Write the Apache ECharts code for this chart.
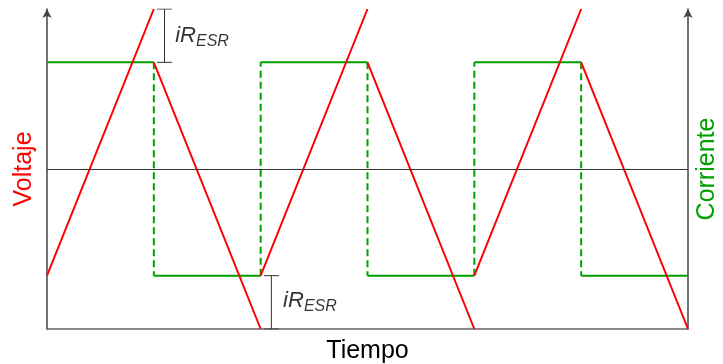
<!DOCTYPE html>
<html>
<head>
<meta charset="utf-8">
<script src="https://cdn.jsdelivr.net/npm/echarts@6/dist/echarts.min.js"></script>
<style>
  html, body { margin: 0; padding: 0; background: #fff; }
  #chart { width: 723px; height: 364px; }
</style>
</head>
<body>
<div id="chart"></div>
<script>
// datos (medio periodo = 1 unidad de tiempo)
const halfPeriods = [0, 1, 2, 3, 4, 5];
const currentLevel = [1, -1, 1, -1, 1, -1];
const voltageStart = [-1.0, 1.0, -1.0, 1.0, -1.0, 1.0];
const voltageEnd = [1.5, -1.5, 1.5, -1.5, 1.5, -1.5];
const yRange = [-1.5, 1.5];
const tRange = [0, 6];
// corchetes iR_ESR: [x, y desde, y hasta]
const esrBrackets = [[1.1, 1.5, 1.0], [2.1, -1.0, -1.5]];
const esrLabels = [[1.2, 1.22], [2.21, -1.26]];

const GAP = ['-', '-'];

let voltage = [];
halfPeriods.forEach((k, i) => {
    voltage.push([k, voltageStart[i]], [k + 1, voltageEnd[i]], GAP);
});

let currentFlat = [];
let currentEdges = [];
halfPeriods.forEach((k, i) => {
    currentFlat.push([k, currentLevel[i]], [k + 1, currentLevel[i]], GAP);
    if (i > 0) {
        currentEdges.push([k, currentLevel[i - 1]], [k, currentLevel[i]], GAP);
    }
});

const capW = 0.07;
let brackets = [];
esrBrackets.forEach(b => {
    brackets.push([b[0] - capW, b[1]], [b[0] + capW, b[1]], GAP);
    brackets.push([b[0], b[1]], [b[0], b[2]], GAP);
    brackets.push([b[0] - capW, b[2]], [b[0] + capW, b[2]], GAP);
});

const FONT = 'Liberation Sans';
const axisGray = '#666';

let chart = echarts.init(document.getElementById('chart'));
chart.setOption({
    animation: false,
    grid: { left: 47, right: 35, top: 9, bottom: 35, containLabel: false, outerBoundsMode: 'none' },
    xAxis: {
        type: 'value', min: tRange[0], max: tRange[1],
        name: 'Tiempo', nameLocation: 'middle', nameGap: 10,
        nameTextStyle: { fontFamily: FONT, fontSize: 25, color: '#000', verticalAlign: 'top' },
        axisLine: { show: true, onZero: false, lineStyle: { color: axisGray, width: 1.5 } },
        axisTick: { show: false }, axisLabel: { show: false }, splitLine: { show: false }
    },
    yAxis: [
        {
            type: 'value', min: yRange[0], max: yRange[1], position: 'left',
            name: 'Voltaje', nameLocation: 'middle', nameGap: 10, nameRotate: 90,
            nameTextStyle: { fontFamily: FONT, fontSize: 25, color: '#ff0000', verticalAlign: 'bottom' },
            axisLine: { show: true, onZero: false, symbol: ['none', 'arrow'], symbolSize: [7, 9],
                lineStyle: { color: '#444', width: 1.5 } },
            axisTick: { show: false }, axisLabel: { show: false }, splitLine: { show: false }
        },
        {
            type: 'value', min: yRange[0], max: yRange[1], position: 'right',
            name: 'Corriente', nameLocation: 'middle', nameGap: 7, nameRotate: 90,
            nameTextStyle: { fontFamily: FONT, fontSize: 25, color: '#00a000', verticalAlign: 'top' },
            axisLine: { show: true, onZero: false, symbol: ['none', 'arrow'], symbolSize: [7, 9],
                lineStyle: { color: '#444', width: 1.5 } },
            axisTick: { show: false }, axisLabel: { show: false }, splitLine: { show: false }
        }
    ],
    series: [
        {
            type: 'line', yAxisIndex: 0, data: brackets, showSymbol: false, silent: true,
            lineStyle: { color: '#333', width: 1 },
            markLine: {
                symbol: 'none', silent: true, label: { show: false },
                lineStyle: { color: '#333', width: 1, type: 'solid' },
                data: [{ yAxis: 0 }]
            }
        },
        {
            type: 'line', yAxisIndex: 1, data: currentFlat, showSymbol: false,
            lineStyle: { color: '#00a000', width: 2 }
        },
        {
            type: 'line', yAxisIndex: 1, data: currentEdges, showSymbol: false,
            lineStyle: { color: '#00a000', width: 2, type: [7, 4] }
        },
        {
            type: 'line', yAxisIndex: 0, data: voltage, showSymbol: false, clip: false,
            lineStyle: { color: '#ff0000', width: 2 }
        },
        {
            type: 'scatter', yAxisIndex: 0, data: esrLabels, symbolSize: 0, silent: true,
            label: {
                show: true, position: 'inside', align: 'left', verticalAlign: 'middle',
                formatter: '{i|iR}{s|ESR}',
                rich: {
                    i: { fontFamily: FONT, fontStyle: 'italic', fontSize: 22, lineHeight: 22,
                         color: '#000', verticalAlign: 'bottom', padding: [0, 0, 3, 0] },
                    s: { fontFamily: FONT, fontStyle: 'italic', fontSize: 16, lineHeight: 16,
                         color: '#000', verticalAlign: 'bottom' }
                }
            }
        }
    ]
});
</script>
</body>
</html>
